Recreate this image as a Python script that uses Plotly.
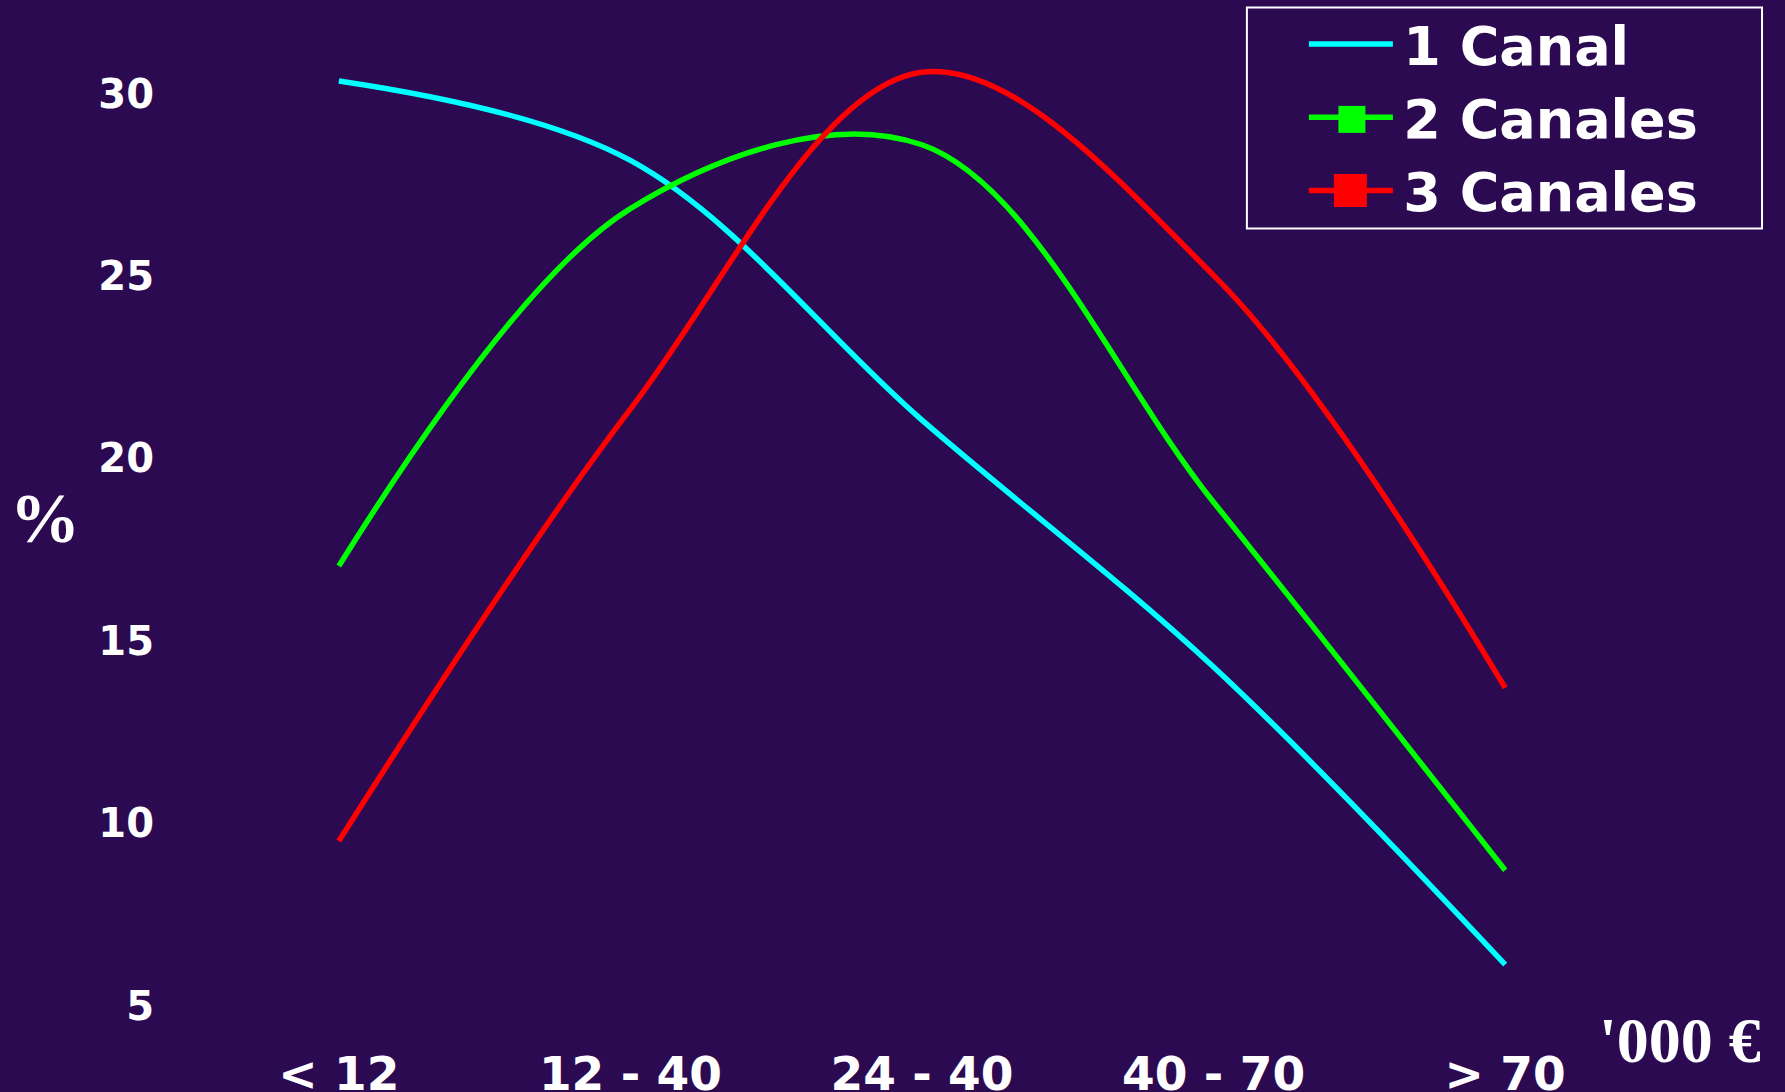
import plotly.graph_objects as go

categories = ["< 12", "12 - 40", "24 - 40", "40 - 70", "> 70"]
canal_1 = [30.35, 28.17, 21.05, 14.28, 6.12]
canales_2 = [17.05, 26.85, 28.6, 18.8, 8.71]
canales_3 = [9.51, 21.35, 30.59, 25.02, 13.71]
series_names = ["1 Canal", "2 Canales", "3 Canales"]
series_colors = ["#00FFFF", "#00FF00", "#FF0000"]
y_ticks = [5, 10, 15, 20, 25, 30]

BG = "#2C0A52"
W, H = 1785, 1092
L, R, T, B = 193.4, 134.0, 38.6, 50.3
PW, PH = W - L - R, H - T - B

def px(x):
    return (x - L) / PW

def py(y):
    return (H - B - y) / PH

fig = go.Figure()
for name, vals, col in zip(series_names, [canal_1, canales_2, canales_3], series_colors):
    fig.add_trace(go.Scatter(
        x=categories, y=vals, mode="lines", name="\u200a" + name,
        line=dict(color=col, width=5.5, shape="spline", smoothing=1.0),
        showlegend=True,
    ))

fig.update_layout(
    width=W, height=H,
    margin=dict(l=L, r=R, t=T, b=B, pad=0, autoexpand=False),
    paper_bgcolor=BG, plot_bgcolor=BG,
    font=dict(family="DejaVu Sans", color="white"),
    xaxis=dict(
        type="category", range=[-0.5, 4.5], showgrid=False, zeroline=False,
        showline=False, ticks="", automargin=False,
        tickfont=dict(family="DejaVu Sans", size=47, color="white", weight="bold"),
        ticklabelstandoff=0,
    ),
    yaxis=dict(
        range=[4.0, 31.5], tickvals=y_ticks, showgrid=False, zeroline=False,
        showline=False, ticks="", automargin=False,
        tickfont=dict(family="DejaVu Sans", size=40, color="white", weight="bold"),
        ticklabelstandoff=38,
    ),
    legend=dict(
        x=px(1304), y=py(2), xanchor="left", yanchor="top",
        bgcolor="rgba(0,0,0,0)", borderwidth=0,
        font=dict(family="DejaVu Sans", size=54, color="white", weight="bold"),
        itemwidth=84, tracegroupgap=0,
    ),
    showlegend=True,
)

# legend frame
fig.add_shape(type="rect", xref="paper", yref="paper",
              x0=px(1247), x1=px(1762), y0=py(228), y1=py(7),
              line=dict(color="white", width=2), fillcolor="rgba(0,0,0,0)")
# legend square symbols
fig.add_shape(type="rect", xref="paper", yref="paper",
              x0=px(1338.5), x1=px(1365.5), y0=py(132.5), y1=py(105.5),
              line=dict(width=0), fillcolor="#00FF00")
fig.add_shape(type="rect", xref="paper", yref="paper",
              x0=px(1334), x1=px(1367), y0=py(206.5), y1=py(173.5),
              line=dict(width=0), fillcolor="#FF0000")

fig.add_annotation(text="%", xref="paper", yref="paper", x=px(45), y=py(518),
                   showarrow=False, xanchor="center", yanchor="middle",
                   font=dict(family="Liberation Serif", size=70, color="white", weight="bold"))
fig.add_annotation(text="'000 €", xref="paper", yref="paper", x=px(1680), y=py(1040),
                   showarrow=False, xanchor="center", yanchor="middle",
                   font=dict(family="Liberation Serif", size=64, color="white", weight="bold"))

fig.write_html("out.html", config={"displayModeBar": False},
               post_script="document.body.style.margin='0';document.body.style.overflow='hidden';")
